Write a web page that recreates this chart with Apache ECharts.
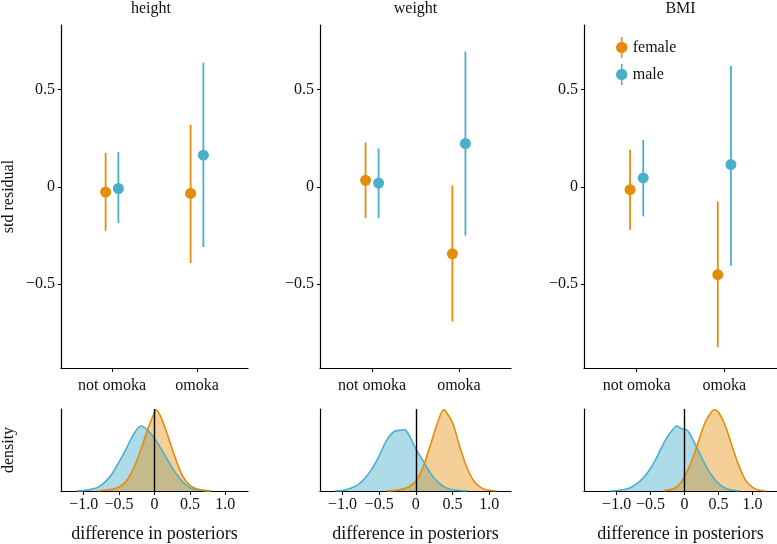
<!DOCTYPE html>
<html>
<head>
<meta charset="utf-8">
<script src="https://cdn.jsdelivr.net/npm/echarts@6/dist/echarts.min.js"></script>
<style>html,body{margin:0;padding:0;background:#fff}#c{width:777px;height:544px}</style>
</head>
<body>
<div id="c"></div>
<script>
// ---------- data ----------
const facets = ['height', 'weight', 'BMI'];
const categories = ['not omoka', 'omoka'];
const groups = ['female', 'male'];
const yTicks = [-0.5, 0, 0.5];
const xDiffTicks = [-1, -0.5, 0, 0.5, 1];

// per facet: [not omoka, omoka]
const femaleMean = [[-0.027, -0.034], [0.033, -0.344], [-0.015, -0.451]];
const femaleLow  = [[-0.226, -0.391], [-0.161, -0.692], [-0.220, -0.824]];
const femaleHigh = [[0.173, 0.318], [0.227, 0.007], [0.190, -0.075]];
const maleMean   = [[-0.009, 0.162], [0.019, 0.222], [0.045, 0.114]];
const maleLow    = [[-0.186, -0.309], [-0.161, -0.251], [-0.152, -0.405]];
const maleHigh   = [[0.178, 0.637], [0.197, 0.694], [0.240, 0.619]];

// density of difference in posteriors (relative height)
const densFemaleHeight = [[-0.8,0],[-0.7,0.01],[-0.6,0.02],[-0.5,0.05],[-0.4,0.12],[-0.3,0.27],[-0.2,0.49],[-0.1,0.75],[0,0.97],[0.02,1],[0.1,0.89],[0.2,0.65],[0.3,0.39],[0.4,0.18],[0.5,0.07],[0.6,0.025],[0.7,0.008],[0.8,0]];
const densMaleHeight = [[-1.1,0],[-1.0,0.005],[-0.9,0.02],[-0.8,0.045],[-0.7,0.11],[-0.6,0.21],[-0.5,0.36],[-0.4,0.52],[-0.3,0.69],[-0.19,0.8],[-0.1,0.75],[0,0.65],[0.1,0.51],[0.2,0.36],[0.3,0.22],[0.4,0.11],[0.5,0.04],[0.6,0.015],[0.7,0.005],[0.8,0]];
const densFemaleWeight = [[-0.4,0],[-0.3,0.005],[-0.2,0.02],[-0.1,0.05],[0,0.12],[0.1,0.3],[0.2,0.57],[0.3,0.85],[0.38,1],[0.4,0.99],[0.5,0.84],[0.6,0.54],[0.7,0.28],[0.8,0.11],[0.9,0.035],[1.0,0.01],[1.1,0]];
const densMaleWeight = [[-1.1,0],[-1.0,0.005],[-0.9,0.03],[-0.8,0.07],[-0.7,0.15],[-0.6,0.27],[-0.5,0.43],[-0.4,0.62],[-0.3,0.73],[-0.2,0.75],[-0.15,0.755],[-0.1,0.7],[0,0.52],[0.1,0.37],[0.2,0.22],[0.3,0.11],[0.4,0.045],[0.5,0.015],[0.6,0.005],[0.7,0]];
const densFemaleBMI = [[-0.3,0.005],[-0.2,0.02],[-0.1,0.06],[0,0.18],[0.1,0.36],[0.2,0.6],[0.3,0.84],[0.4,0.98],[0.44,1],[0.5,0.97],[0.6,0.8],[0.7,0.55],[0.8,0.31],[0.9,0.13],[1.0,0.045],[1.1,0.01],[1.2,0]];
const densMaleBMI = [[-1.1,0],[-1.0,0.003],[-0.9,0.015],[-0.8,0.04],[-0.7,0.09],[-0.6,0.17],[-0.5,0.28],[-0.4,0.43],[-0.3,0.6],[-0.2,0.73],[-0.11,0.8],[-0.05,0.77],[0,0.76],[0.05,0.74],[0.1,0.67],[0.2,0.5],[0.3,0.33],[0.4,0.19],[0.5,0.09],[0.6,0.035],[0.7,0.012],[0.8,0]];

const densFemale = [densFemaleHeight, densFemaleWeight, densFemaleBMI];
const densMale = [densMaleHeight, densMaleWeight, densMaleBMI];

// ---------- style / layout ----------
const ORANGE = '#E58C0A';
const BLUE = '#4AAFCB';
const FONT = "'Liberation Serif','Times New Roman',serif";
const TXT = '#111';
const panelLeft = [54, 320, 584];
const panelWidth = [194, 191, 193];
const diffRange = [[-1.32, 1.32], [-1.305, 1.296], [-1.48, 1.36]];
const dodge = 0.075;

function fmtNum(v) {
  if (Math.abs(v) < 1e-9) return '0';
  const s = Math.abs(v).toFixed(1);
  return (v < 0 ? '\u2212' : '') + s;
}

function renderer(color, off) {
  return function (params, api) {
    const x = api.value(0) + off;
    const pm = api.coord([x, api.value(1)]);
    const pl = api.coord([x, api.value(2)]);
    const ph = api.coord([x, api.value(3)]);
    return {
      type: 'group',
      children: [
        {type: 'line', shape: {x1: pm[0], y1: pl[1], x2: pm[0], y2: ph[1]}, style: {stroke: color, lineWidth: 1.8}},
        {type: 'circle', shape: {cx: pm[0], cy: pm[1], r: 5.5}, style: {fill: color}}
      ]
    };
  };
}

const grids = [], xAxes = [], yAxes = [], series = [], titles = [];
const axisLineStyle = {show: true, onZero: false, lineStyle: {color: '#000', width: 1.2}};

for (let p = 0; p < 3; p++) {
  grids.push({left: panelLeft[p], top: 25, width: panelWidth[p], height: 343});
  titles.push({text: facets[p], left: panelLeft[p] + panelWidth[p] / 2, top: 1, textAlign: 'center', padding: 0,
    textStyle: {fontFamily: FONT, fontSize: 16, fontWeight: 'normal', color: TXT}});
}
for (let p = 0; p < 3; p++) {
  grids.push({left: panelLeft[p], top: 409, width: panelWidth[p], height: 86});
}

// top axes
for (let p = 0; p < 3; p++) {
  xAxes.push({
    type: 'value', gridIndex: p, min: 0.4, max: 2.6,
    axisLine: axisLineStyle, splitLine: {show: false},
    axisTick: {show: true, length: 4, customValues: [1, 2], lineStyle: {color: '#000', width: 1}},
    axisLabel: {customValues: [1, 2], margin: 10, fontFamily: FONT, fontSize: 16, color: TXT,
      formatter: v => categories[Math.round(v) - 1]}
  });
  yAxes.push({
    type: 'value', gridIndex: p, min: -0.93, max: 0.83,
    axisLine: axisLineStyle, splitLine: {show: false},
    axisTick: {show: true, length: 3, customValues: yTicks, lineStyle: {color: '#000', width: 1}},
    axisLabel: {customValues: yTicks, margin: 6, fontFamily: FONT, fontSize: 16, color: TXT, formatter: fmtNum},
    name: p === 0 ? 'std residual' : '', nameLocation: 'middle', nameGap: 44, nameRotate: 90,
    nameTextStyle: {fontFamily: FONT, fontSize: 16, color: TXT}
  });
}
// bottom axes
for (let p = 0; p < 3; p++) {
  xAxes.push({
    type: 'value', gridIndex: 3 + p, min: diffRange[p][0], max: diffRange[p][1],
    axisLine: axisLineStyle, splitLine: {show: false},
    axisTick: {show: true, length: 4, customValues: xDiffTicks, lineStyle: {color: '#000', width: 1}},
    axisLabel: {customValues: xDiffTicks, margin: 6, fontFamily: FONT, fontSize: 16, color: TXT, formatter: fmtNum},
    name: 'difference in posteriors', nameLocation: 'middle', nameGap: 34,
    nameTextStyle: {fontFamily: FONT, fontSize: 18, color: TXT}
  });
  yAxes.push({
    type: 'value', gridIndex: 3 + p, min: 0, max: 1.01,
    axisLine: axisLineStyle, splitLine: {show: false}, axisTick: {show: false}, axisLabel: {show: false},
    name: p === 0 ? 'density' : '', nameLocation: 'middle', nameGap: 44, nameRotate: 90,
    nameTextStyle: {fontFamily: FONT, fontSize: 16, color: TXT}
  });
}

// top series
for (let p = 0; p < 3; p++) {
  const fData = categories.map((c, i) => [i + 1, femaleMean[p][i], femaleLow[p][i], femaleHigh[p][i]]);
  const mData = categories.map((c, i) => [i + 1, maleMean[p][i], maleLow[p][i], maleHigh[p][i]]);
  series.push({type: 'custom', name: groups[0], xAxisIndex: p, yAxisIndex: p, data: fData,
    encode: {x: 0, y: [1, 2, 3]}, itemStyle: {color: ORANGE}, renderItem: renderer(ORANGE, -dodge), silent: true});
  series.push({type: 'custom', name: groups[1], xAxisIndex: p, yAxisIndex: p, data: mData,
    encode: {x: 0, y: [1, 2, 3]}, itemStyle: {color: BLUE}, renderItem: renderer(BLUE, dodge), silent: true});
}
// density series
for (let p = 0; p < 3; p++) {
  series.push({type: 'line', xAxisIndex: 3 + p, yAxisIndex: 3 + p, data: densMale[p], smooth: 0.35,
    showSymbol: false, silent: true, lineStyle: {color: BLUE, width: 1.6}, itemStyle: {color: BLUE},
    areaStyle: {color: BLUE, opacity: 0.45}});
  series.push({type: 'line', xAxisIndex: 3 + p, yAxisIndex: 3 + p, data: densFemale[p], smooth: 0.35,
    showSymbol: false, silent: true, lineStyle: {color: ORANGE, width: 1.6}, itemStyle: {color: ORANGE},
    areaStyle: {color: ORANGE, opacity: 0.42},
    markLine: {silent: true, symbol: 'none', label: {show: false}, animation: false,
      lineStyle: {color: '#000', width: 1.4, type: 'solid'}, data: [{xAxis: 0}]}});
}

const chart = echarts.init(document.getElementById('c'), null, {renderer: 'canvas'});
chart.setOption({
  animation: false,
  backgroundColor: '#fff',
  title: titles,
  grid: grids,
  xAxis: xAxes,
  yAxis: yAxes,
  legend: {
    data: groups, orient: 'vertical', left: 611, top: 32,
    itemWidth: 12, itemHeight: 21, itemGap: 6, selectedMode: false,
    icon: 'path://M5.2,0H6.8V22H5.2Z M12,11A6,6 0 1 1 0,11A6,6 0 1 1 12,11Z',
    textStyle: {fontFamily: FONT, fontSize: 16, color: TXT}
  },
  series: series
});
</script>
</body>
</html>
